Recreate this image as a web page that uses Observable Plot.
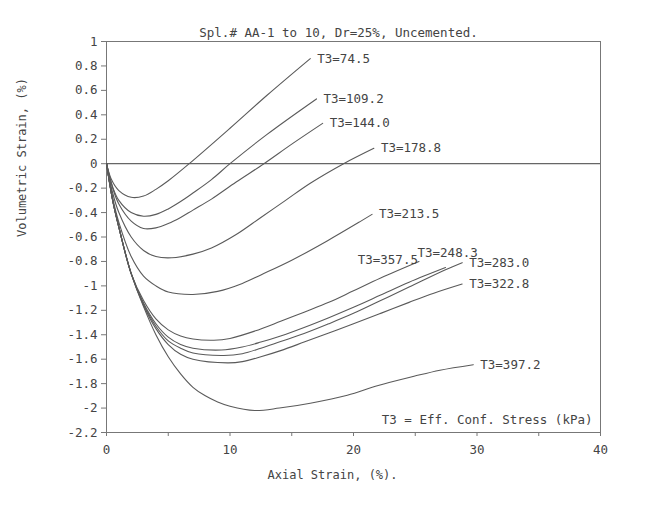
<!DOCTYPE html>
<html>
<head>
<meta charset="utf-8">
<script src="https://cdn.jsdelivr.net/npm/d3@7"></script>
<script src="https://cdn.jsdelivr.net/npm/@observablehq/plot@0.6"></script>
<style>
  html, body { margin: 0; padding: 0; background: #fff; }
</style>
</head>
<body>
<div id="chart"></div>
<script>
// ---- data ----
const titleText = "Spl.# AA-1 to 10, Dr=25%, Uncemented.";
const xLabel = "Axial Strain, (%).";
const yLabel = "Volumetric Strain, (%)";
const noteText = "T3 = Eff. Conf. Stress (kPa)";

const xTicks = [0, 5, 10, 15, 20, 25, 30, 35, 40];
const xTickLabels = ["0", "", "10", "", "20", "", "30", "", "40"];
const yTicks = [1, 0.8, 0.6, 0.4, 0.2, 0, -0.2, -0.4, -0.6, -0.8, -1, -1.2, -1.4, -1.6, -1.8, -2, -2.2];

const seriesNames = ["T3=74.5", "T3=109.2", "T3=144.0", "T3=178.8", "T3=213.5",
                     "T3=248.3", "T3=283.0", "T3=322.8", "T3=357.5", "T3=397.2"];

const axial_74_5 = [0, 0.4, 1, 2, 3, 4, 5, 6.7, 10, 13, 16.5];
const vol_74_5   = [0, -0.13, -0.22, -0.275, -0.265, -0.21, -0.14, 0, 0.29, 0.56, 0.86];

const axial_109_2 = [0, 0.5, 1, 2, 3, 4, 5, 6, 7, 8.5, 10, 13, 17];
const vol_109_2   = [0, -0.19, -0.3, -0.4, -0.43, -0.415, -0.37, -0.31, -0.24, -0.13, 0, 0.24, 0.53];

const axial_144_0 = [0, 0.5, 1, 2, 3, 4, 5, 6, 7, 8.5, 10.5, 12.75, 15, 17.5];
const vol_144_0   = [0, -0.2, -0.33, -0.47, -0.53, -0.525, -0.49, -0.44, -0.38, -0.29, -0.15, 0, 0.16, 0.33];

const axial_178_8 = [0, 0.5, 1, 2, 3, 4, 5.3, 7, 8.5, 10.5, 12.5, 14.5, 16.5, 19.2, 21.65];
const vol_178_8   = [0, -0.24, -0.4, -0.6, -0.71, -0.76, -0.77, -0.74, -0.69, -0.58, -0.44, -0.3, -0.16, 0, 0.126];

const axial_213_5 = [0, 0.5, 1, 2, 3, 4, 5, 7, 9, 11, 12.5, 15, 17.9, 20.6, 21.5];
const vol_213_5   = [0, -0.28, -0.48, -0.76, -0.92, -1.0, -1.05, -1.07, -1.045, -0.98, -0.91, -0.79, -0.63, -0.47, -0.415];

const axial_248_3 = [0, 0.5, 1, 2, 3, 4, 5, 6, 7, 9.3, 11, 12.5, 14.1, 16, 18, 20, 22.2, 24.5, 27.45];
const vol_248_3   = [0, -0.3, -0.52, -0.9, -1.14, -1.31, -1.42, -1.48, -1.51, -1.525, -1.5, -1.46, -1.41, -1.34, -1.26, -1.175, -1.075, -0.97, -0.85];

const axial_283_0 = [0, 0.5, 1, 2, 3, 4, 5, 6, 7, 9.5, 11, 12.5, 14.1, 16, 18, 20, 22.2, 24.5, 27.4, 28.8];
const vol_283_0   = [0, -0.3, -0.52, -0.9, -1.15, -1.33, -1.45, -1.51, -1.55, -1.57, -1.555, -1.51, -1.455, -1.39, -1.31, -1.225, -1.12, -1.01, -0.87, -0.81];

const axial_322_8 = [0, 0.5, 1, 2, 3, 4, 5, 6, 7, 9.8, 11, 12.5, 14.1, 16, 18, 20, 22.2, 24.5, 26.5, 28.8];
const vol_322_8   = [0, -0.3, -0.52, -0.9, -1.16, -1.35, -1.48, -1.56, -1.6, -1.63, -1.62, -1.58, -1.53, -1.46, -1.385, -1.31, -1.225, -1.135, -1.06, -0.985];

const axial_357_5 = [0, 0.5, 1, 2, 3, 4, 5, 6, 7, 8.7, 10, 12, 14.1, 16, 18, 20, 22.2, 25.3];
const vol_357_5   = [0, -0.3, -0.52, -0.9, -1.12, -1.27, -1.36, -1.41, -1.435, -1.445, -1.43, -1.37, -1.29, -1.215, -1.135, -1.04, -0.935, -0.80];

const axial_397_2 = [0, 0.5, 1, 2, 3, 4, 5, 6, 7, 8, 9, 10, 12, 14, 16.5, 19.5, 22, 24.9, 27, 29.7];
const vol_397_2   = [0, -0.3, -0.52, -0.9, -1.17, -1.4, -1.58, -1.72, -1.83, -1.9, -1.95, -1.985, -2.02, -2.0, -1.96, -1.895, -1.815, -1.74, -1.69, -1.645];

// ---- build table ----
const seriesX = [axial_74_5, axial_109_2, axial_144_0, axial_178_8, axial_213_5,
                 axial_248_3, axial_283_0, axial_322_8, axial_357_5, axial_397_2];
const seriesY = [vol_74_5, vol_109_2, vol_144_0, vol_178_8, vol_213_5,
                 vol_248_3, vol_283_0, vol_322_8, vol_357_5, vol_397_2];

const rows = [];
const ends = [];
seriesNames.forEach((name, i) => {
  const xs = seriesX[i], ys = seriesY[i];
  xs.forEach((x, j) => rows.push({series: name, x, y: ys[j]}));
  ends.push({series: name, x: xs[xs.length - 1], y: ys[ys.length - 1]});
});

const regularEnds = ends.filter(d => d.series !== "T3=357.5" && d.series !== "T3=248.3");
const end357 = ends.filter(d => d.series === "T3=357.5");
const end248 = ends.filter(d => d.series === "T3=248.3");

const ink = "#444";
const lineInk = "#5a5a5a";

const chart = Plot.plot({
  width: 645,
  height: 509,
  marginLeft: 106,
  marginRight: 45,
  marginTop: 41,
  marginBottom: 77,
  style: {fontFamily: "'DejaVu Sans Mono', monospace", fontSize: "12.5px", color: ink, background: "#fff"},
  x: {domain: [0, 40]},
  y: {domain: [-2.2, 1]},
  marks: [
    Plot.frame({stroke: "#777", strokeWidth: 1}),
    Plot.ruleY([0], {stroke: "#666", strokeWidth: 1.2}),
    Plot.axisY(yTicks, {tickSize: 5, tickPadding: 4, tickFormat: d => String(d), label: null, fontSize: 12.5, stroke: "#777"}),
    Plot.axisX(xTicks, {tickSize: 4, tickPadding: 9, tickFormat: (d, i) => xTickLabels[i], label: null, fontSize: 12.5, stroke: "#777"}),
    Plot.line(rows, {x: "x", y: "y", z: "series", curve: "catmull-rom", stroke: lineInk, strokeWidth: 1.1}),
    Plot.text(regularEnds, {x: "x", y: "y", text: "series", textAnchor: "start", dx: 7, fill: ink, fontSize: 12.5}),
    Plot.text(end357, {x: "x", y: "y", text: "series", textAnchor: "end", dx: -1, dy: -1, fill: ink, fontSize: 12.5}),
    Plot.text(end248, {x: "x", y: "y", text: "series", textAnchor: "start", dx: -28, dy: -15, fill: ink, fontSize: 12.5}),
    Plot.text([titleText], {frameAnchor: "top", dy: -13, dx: -15, fill: ink, fontSize: 12.5}),
    Plot.text([noteText], {frameAnchor: "bottom-right", textAnchor: "end", dx: -8, dy: -9, fill: ink, fontSize: 12.5}),
    Plot.text([xLabel], {frameAnchor: "bottom", dy: 46, dx: -21, fill: ink, fontSize: 12, letterSpacing: "0.5px"}),
    Plot.text([yLabel], {frameAnchor: "left", rotate: -90, dx: -84, fill: ink, fontSize: 12, letterSpacing: "0.5px"})
  ]
});
document.getElementById("chart").appendChild(chart);
</script>
</body>
</html>
